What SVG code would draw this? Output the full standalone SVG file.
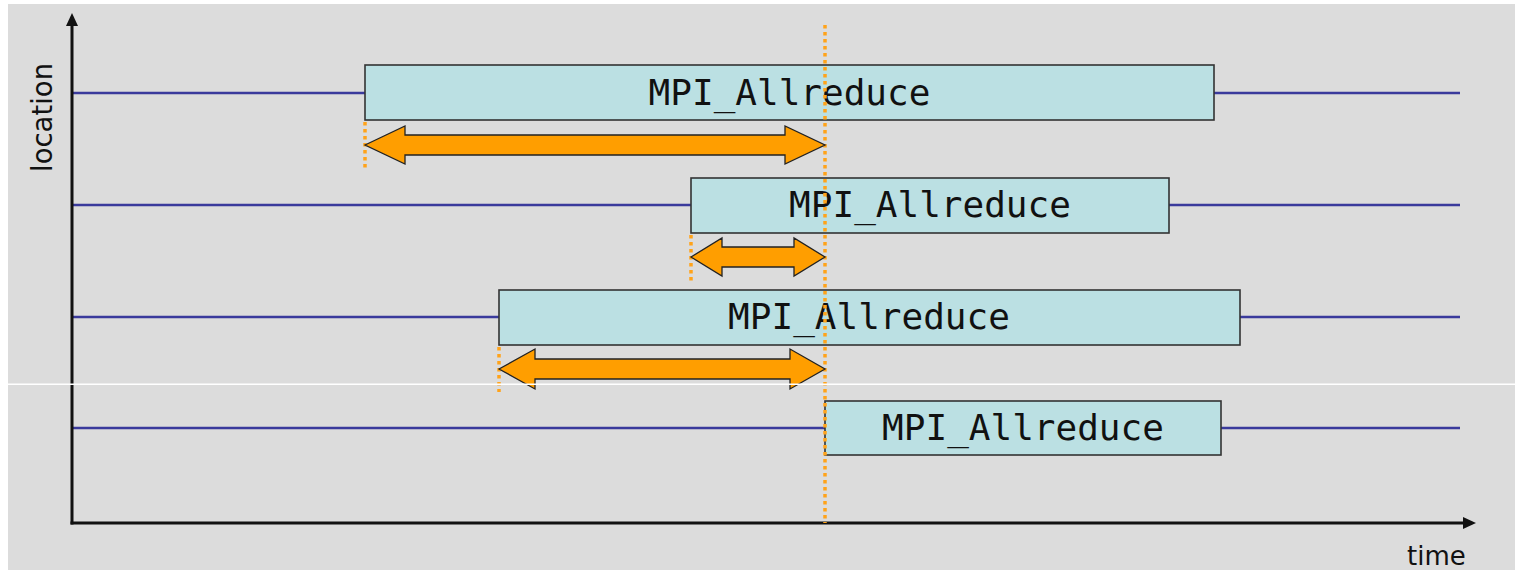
<svg xmlns="http://www.w3.org/2000/svg" width="1515" height="570" viewBox="0 0 1515 570">
<defs>
<style>
.tl{stroke:#3a3a9c;stroke-width:2.5;fill:none}
.box{fill:#bbe0e3;stroke:#333;stroke-width:1.6}
.lbl{font-family:"DejaVu Sans Mono","Liberation Mono",monospace;font-size:36px;fill:#111;text-anchor:middle}
.ax{stroke:#111;stroke-width:3;fill:none}
.dot{stroke:#ffa31a;stroke-width:3.5;stroke-dasharray:3.5 3.5;fill:none}
.arr{fill:#ff9e00;stroke:#222;stroke-width:1.3;stroke-linejoin:miter}
.axl{font-family:"DejaVu Sans",sans-serif;font-size:26px;fill:#111}
</style>
</defs>
<rect x="0" y="0" width="1515" height="570" fill="#ffffff"/>
<rect x="8" y="4" width="1507" height="566" fill="#dcdcdc"/>
<g id="timelines">
<line class="tl" x1="72" y1="93" x2="1460" y2="93"/>
<line class="tl" x1="72" y1="205" x2="1460" y2="205"/>
<line class="tl" x1="72" y1="317" x2="1460" y2="317"/>
<line class="tl" x1="72" y1="428" x2="1460" y2="428"/>
</g>
<g id="axes">
<line class="ax" x1="72" y1="24" x2="72" y2="524.5"/>
<line class="ax" x1="70.5" y1="523" x2="1465" y2="523"/>
<polygon points="72,13 78,26 66,26" fill="#111"/>
<polygon points="1476,523 1463,517 1463,529" fill="#111"/>
<text class="axl" style="font-size:27.5px" transform="translate(52,172) rotate(-90)">location</text>
<text class="axl" x="1407" y="565">time</text>
</g>
<g id="node1">
<rect class="box" x="365" y="65" width="849" height="55"/>
<text class="lbl" x="789.5" y="105">MPI_Allreduce</text>
</g>
<g id="node2">
<rect class="box" x="691" y="178" width="478" height="55"/>
<text class="lbl" x="930" y="217">MPI_Allreduce</text>
</g>
<g id="node3">
<rect class="box" x="499" y="290" width="741" height="55"/>
<text class="lbl" x="869" y="329">MPI_Allreduce</text>
</g>
<g id="node4">
<rect class="box" x="825" y="401" width="396" height="54"/>
<text class="lbl" x="1023" y="440">MPI_Allreduce</text>
</g>
<g id="connectors">
<line class="dot" x1="825" y1="25" x2="825" y2="523"/>
<line class="dot" x1="365" y1="122" x2="365" y2="170"/>
<line class="dot" x1="691" y1="235" x2="691" y2="282"/>
<line class="dot" x1="499" y1="347" x2="499" y2="392"/>
<polygon class="arr" points="365,145 405,126 405,135 785,135 785,126 825,145 785,164 785,155 405,155 405,164"/>
<polygon class="arr" points="691,257 722,238 722,247 794,247 794,238 825,257 794,276 794,267 722,267 722,276"/>
<polygon class="arr" points="499,369 535,349 535,359 790,359 790,349 825,369 790,389 790,379 535,379 535,389"/>
</g>
<rect x="0" y="383.5" width="1515" height="1.5" fill="#ffffff"/>
</svg>
